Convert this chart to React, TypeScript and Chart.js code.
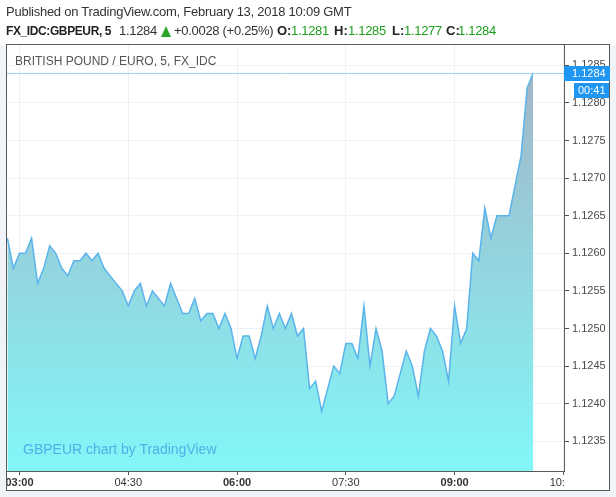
import React, { useEffect, useRef } from "react";
import { Chart, registerables } from "chart.js";

Chart.register(...registerables);

// ---- data ----
const startTime = "02:50";
const barMinutes = 5;
const prices = [
  1.1262, 1.1258, 1.126, 1.126, 1.1262, 1.1256, 1.1258, 1.1261, 1.126, 1.1258,
  1.1257, 1.1259, 1.1259, 1.126, 1.1259, 1.126, 1.1258, 1.1257, 1.1256, 1.1255,
  1.1253, 1.1255, 1.1256, 1.1253, 1.1255, 1.1254, 1.1253, 1.1256, 1.1254, 1.1252,
  1.1252, 1.1254, 1.1251, 1.1252, 1.1252, 1.125, 1.1252, 1.125, 1.1246, 1.1249,
  1.1249, 1.1246, 1.1249, 1.1253, 1.125, 1.1252, 1.125, 1.1252, 1.1249, 1.125,
  1.1242, 1.1243, 1.1239, 1.1242, 1.1245, 1.1244, 1.1248, 1.1248, 1.1246, 1.1253,
  1.1245, 1.125, 1.1247, 1.124, 1.1241, 1.1244, 1.1247, 1.1245, 1.1241, 1.1247,
  1.125, 1.1249, 1.1247, 1.1243, 1.1253, 1.1248, 1.125, 1.126, 1.1259, 1.1266,
  1.1262, 1.1265, 1.1265, 1.1265, 1.1269, 1.1273, 1.1282, 1.1284,
];
const priceTicks = [1.1235, 1.124, 1.1245, 1.125, 1.1255, 1.126, 1.1265, 1.127, 1.1275, 1.128, 1.1285];
const timeTicks = ["03:00", "04:30", "06:00", "07:30", "09:00", "10:30"];
const boldTimeTicks = ["03:00", "06:00", "09:00"];
const viewStart = "02:48";
const viewEnd = "10:32";
const priceMin = 1.123105;
const priceMax = 1.128783;
const lastPrice = 1.1284;
const countdown = "00:41";

const publishedText = "Published on TradingView.com, February 13, 2018 10:09 GMT";
const symbolText = "FX_IDC:GBPEUR, 5";
const changeText = "+0.0028 (+0.25%)";
const ohlcLabels = ["O:", "H:", "L:", "C:"];
const ohlcValues = ["1.1281", "1.1285", "1.1277", "1.1284"];
const titleText = "BRITISH POUND / EURO, 5, FX_IDC";
const watermarkText = "GBPEUR chart by TradingView";

const toMin = (s: string) => {
  const [h, m] = s.split(":").map(Number);
  return h * 60 + m;
};
const fmtMin = (v: number) => {
  const h = Math.floor(v / 60);
  const m = Math.round(v - h * 60);
  return String(h).padStart(2, "0") + ":" + String(m).padStart(2, "0");
};

const AXIS_FONT = "'Liberation Sans', Arial, sans-serif";
const UI_FONT = "'Liberation Sans', Arial, sans-serif";
const GREEN = "#1e9e1e";

export default function App() {
  const ref = useRef<HTMLCanvasElement | null>(null);

  useEffect(() => {
    const canvas = ref.current;
    if (!canvas) return;
    const start = toMin(startTime);
    const points = prices.map((p, i) => ({ x: start + i * barMinutes, y: p }));

    const framePlugin = {
      id: "frame",
      beforeDraw(chart: any) {
        const c = chart.ctx;
        c.save();
        c.fillStyle = "#ffffff";
        c.fillRect(0, 0, chart.width, chart.height);
        c.fillStyle = "#f0f3f7";
        c.fillRect(0, 45, chart.width, chart.height - 45);
        c.fillStyle = "#ffffff";
        c.fillRect(6, 44, 604, 447);
        c.restore();
      },
      afterDatasetsDraw(chart: any) {
        const c = chart.ctx;
        const ca = chart.chartArea;
        const py = Math.round(chart.scales.y.getPixelForValue(lastPrice)) + 0.5;
        c.save();
        c.strokeStyle = "#9fd3f5";
        c.lineWidth = 1;
        c.beginPath();
        c.moveTo(ca.left, py);
        c.lineTo(ca.right, py);
        c.stroke();
        c.restore();
      },
      afterDraw(chart: any) {
        const c = chart.ctx;
        const ca = chart.chartArea;
        c.save();
        // blank corner under price axis
        c.fillStyle = "#ffffff";
        c.fillRect(ca.right + 1, ca.bottom + 1, 609 - ca.right - 1, 490 - ca.bottom - 1);
        // outer frame
        c.strokeStyle = "#5a5a5a";
        c.lineWidth = 1;
        c.strokeRect(6.5, 44.5, 603, 446);
        // price tag
        const py = chart.scales.y.getPixelForValue(lastPrice);
        c.fillStyle = "#1e96f2";
        c.fillRect(ca.right, Math.round(py) - 7, 46, 15);
        c.fillRect(574, Math.round(py) + 10, 35, 15);
        c.fillStyle = "#ffffff";
        c.font = "11px " + AXIS_FONT;
        c.textBaseline = "middle";
        c.textAlign = "left";
        c.fillText(lastPrice.toFixed(4), ca.right + 8, Math.round(py) + 0.5);
        c.fillText(countdown, 578, Math.round(py) + 18);
        c.restore();
      },
    };

    const chart = new Chart(canvas, {
      type: "line",
      data: {
        datasets: [
          {
            data: points,
            borderColor: "#5ab4ec",
            borderWidth: 1.5,
            pointRadius: 0,
            tension: 0,
            fill: "start",
            backgroundColor: (ctx: any) => {
              const ch = ctx.chart;
              const ca = ch.chartArea;
              if (!ca) return "#90dde6";
              const top = ch.scales.y.getPixelForValue(lastPrice);
              const g = ch.ctx.createLinearGradient(0, top, 0, ca.bottom);
              g.addColorStop(0, "#a3b5c7");
              g.addColorStop(1, "#82f7f8");
              return g;
            },
          },
        ],
      },
      options: {
        animation: false,
        responsive: false,
        maintainAspectRatio: false,
        layout: { padding: { left: 7, top: 44, right: 7, bottom: 7 } },
        plugins: { legend: { display: false }, tooltip: { enabled: false } },
        scales: {
          x: {
            type: "linear",
            min: toMin(viewStart) + 1.67,
            max: toMin(viewEnd) - 1.5,
            afterBuildTicks: (s: any) => {
              s.ticks = timeTicks.map((t) => ({ value: toMin(t) }));
            },
            afterFit: (s: any) => {
              s.height = 19;
            },
            grid: { color: "#eef2f6", tickColor: "#555", tickLength: 4 },
            border: { display: true, color: "#5a5a5a" },
            ticks: {
              padding: 1,
              color: "#333",
              maxRotation: 0,
              autoSkip: false,
              font: (ctx: any) => ({
                family: AXIS_FONT,
                size: 11,
                weight: ctx.tick && boldTimeTicks.includes(fmtMin(ctx.tick.value)) ? "bold" : "normal",
              }),
              callback: (v: any) => fmtMin(Number(v)),
            },
          },
          y: {
            position: "right",
            min: priceMin,
            max: priceMax,
            afterBuildTicks: (s: any) => {
              s.ticks = priceTicks.map((v) => ({ value: v }));
            },
            afterFit: (s: any) => {
              s.width = 45;
            },
            grid: { color: "#eef2f6", tickColor: "#555", tickLength: 5 },
            border: { display: true, color: "#5a5a5a" },
            ticks: {
              padding: 3,
              color: "#4a4a4a",
              font: { family: AXIS_FONT, size: 11 },
              callback: (v: any) => Number(v).toFixed(4),
            },
          },
        },
      },
      plugins: [framePlugin],
    } as any);
    return () => chart.destroy();
  }, []);

  const abs = (left: number, top: number, extra: any = {}) => ({
    position: "absolute" as const,
    left,
    top,
    whiteSpace: "nowrap" as const,
    lineHeight: "16px",
    ...extra,
  });

  const ohlcLabelX = [277, 334, 392, 446];
  const ohlcValueX = [291, 348, 404, 458];

  return (
    <div style={{ position: "absolute", left: 0, top: 0, width: 616, height: 497, fontFamily: UI_FONT }}>
      <canvas ref={ref} width={616} height={497} style={{ position: "absolute", left: 0, top: 0, width: 616, height: 497 }} />
      <div style={abs(6, 4, { fontSize: 13, color: "#333", letterSpacing: "-0.25px" })}>{publishedText}</div>
      <div
        style={abs(6, 23, {
          fontSize: 13,
          color: "#222",
          fontWeight: "bold",
          letterSpacing: "-0.4px",
          transform: "scaleX(0.92)",
          transformOrigin: "left center",
        })}
      >
        {symbolText}
      </div>
      <div style={abs(119, 23, { fontSize: 13, color: "#333", letterSpacing: "-0.3px" })}>1.1284</div>
      <div
        style={abs(161, 26, {
          width: 0,
          height: 0,
          borderLeft: "5.5px solid transparent",
          borderRight: "5.5px solid transparent",
          borderBottom: "11px solid #2aa52a",
        })}
      />
      <div style={abs(174, 23, { fontSize: 13, color: "#333", letterSpacing: "-0.3px" })}>{changeText}</div>
      {ohlcLabels.map((l, i) => (
        <React.Fragment key={l}>
          <div style={abs(ohlcLabelX[i], 23, { fontSize: 13, color: "#222", fontWeight: "bold" })}>{l}</div>
          <div style={abs(ohlcValueX[i], 23, { fontSize: 13, color: GREEN, letterSpacing: "-0.3px" })}>{ohlcValues[i]}</div>
        </React.Fragment>
      ))}
      <div style={abs(15, 53, { fontSize: 12, color: "#555" })}>{titleText}</div>
      <div style={abs(23, 441, { fontSize: 14, color: "#4fb0e6" })}>{watermarkText}</div>
    </div>
  );
}
